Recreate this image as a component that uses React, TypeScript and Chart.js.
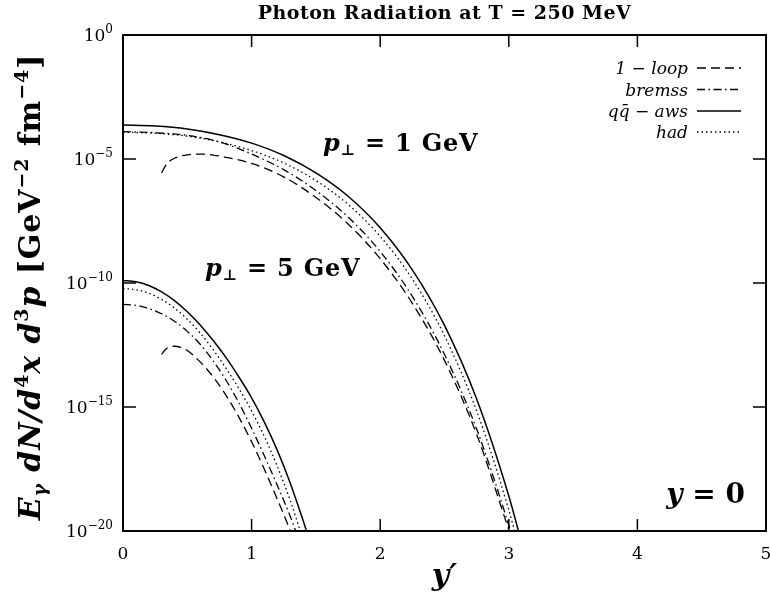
import React, { useEffect, useRef } from "react";
import { Chart, registerables } from "chart.js";

Chart.register(...registerables);

// Axis ticks
const xTicks = [0, 1, 2, 3, 4, 5];
const xTickLabels = ["0", "1", "2", "3", "4", "5"];
const yTicks = [1, 1e-5, 1e-10, 1e-15, 1e-20];
const yTickExponents = ["0", "−5", "−10", "−15", "−20"];

const seriesNames = ["1 − loop", "bremss", "qq̄ − aws", "had"];

// p⊥ = 1 GeV
const p1LoopX = [0.3, 0.33, 0.36, 0.4, 0.45, 0.5, 0.6, 0.7, 0.8, 1.0, 1.25, 1.5, 1.75, 2.0, 2.25, 2.5, 2.75, 3.0, 3.03];
const p1LoopY = [2.754e-6, 5.248e-6, 7.943e-6, 1.072e-5, 1.318e-5, 1.479e-5, 1.585e-5, 1.445e-5, 1.175e-5, 6.607e-6, 1.905e-6, 2.818e-7, 2.399e-8, 9.55e-10, 1.514e-11, 7.586e-14, 7.943e-17, 1.122e-20, 3.981e-21];

const p1BremX = [0, 0.25, 0.5, 0.75, 1.0, 1.25, 1.5, 1.75, 2.0, 2.25, 2.5, 2.75, 3.0, 3.03];
const p1BremY = [1.259e-4, 1.148e-4, 8.913e-5, 4.898e-5, 1.585e-5, 3.715e-6, 5.37e-7, 4.571e-8, 1.862e-9, 2.884e-11, 1.318e-13, 1.288e-16, 1.698e-20, 5.012e-21];

const p1AwsX = [0, 0.25, 0.5, 0.75, 1.0, 1.25, 1.5, 1.75, 2.0, 2.25, 2.5, 2.75, 3.0, 3.1];
const p1AwsY = [2.344e-4, 2.138e-4, 1.622e-4, 9.55e-5, 4.365e-5, 1.38e-5, 2.754e-6, 3.162e-7, 1.698e-8, 3.388e-10, 1.95e-12, 2.089e-15, 2.57e-19, 3.311e-21];

const p1HadX = [0, 0.25, 0.5, 0.75, 1.0, 1.25, 1.5, 1.75, 2.0, 2.25, 2.5, 2.75, 3.0, 3.06];
const p1HadY = [1.202e-4, 1.096e-4, 8.318e-5, 4.898e-5, 2.188e-5, 6.918e-6, 1.349e-6, 1.479e-7, 7.586e-9, 1.445e-10, 7.413e-13, 6.918e-16, 7.079e-20, 5.012e-21];

// p⊥ = 5 GeV
const p5LoopX = [0.3, 0.33, 0.36, 0.4, 0.45, 0.5, 0.6, 0.7, 0.8, 0.9, 1.0, 1.1, 1.2, 1.3, 1.33];
const p5LoopY = [1.318e-13, 2.089e-13, 2.63e-13, 2.818e-13, 2.512e-13, 1.905e-13, 6.607e-14, 1.66e-14, 3.02e-15, 3.981e-16, 3.981e-17, 3.02e-18, 1.905e-19, 1.047e-20, 3.981e-21];

const p5BremX = [0, 0.1, 0.2, 0.3, 0.4, 0.5, 0.6, 0.7, 0.8, 0.9, 1.0, 1.1, 1.2, 1.3, 1.36];
const p5BremY = [1.38e-11, 1.259e-11, 9.333e-12, 5.754e-12, 2.884e-12, 1.122e-12, 3.388e-13, 7.413e-14, 1.23e-14, 1.514e-15, 1.38e-16, 1.047e-17, 6.918e-19, 3.981e-20, 5.623e-21];

const p5AwsX = [0, 0.1, 0.2, 0.3, 0.4, 0.5, 0.6, 0.7, 0.8, 0.9, 1.0, 1.1, 1.2, 1.3, 1.4, 1.45];
const p5AwsY = [1.259e-10, 1.122e-10, 7.943e-11, 4.365e-11, 1.95e-11, 6.918e-12, 2.042e-12, 4.898e-13, 1.0e-13, 1.66e-14, 2.344e-15, 2.399e-16, 1.778e-17, 8.71e-19, 2.692e-20, 4.074e-21];

const p5HadX = [0, 0.1, 0.2, 0.3, 0.4, 0.5, 0.6, 0.7, 0.8, 0.9, 1.0, 1.1, 1.2, 1.3, 1.4];
const p5HadY = [6.026e-11, 5.37e-11, 3.89e-11, 2.188e-11, 9.772e-12, 3.467e-12, 9.55e-13, 2.089e-13, 3.715e-14, 5.623e-15, 6.918e-16, 6.31e-17, 3.981e-18, 1.738e-19, 4.467e-21];

const SERIF = '"DejaVu Serif", serif';

const STYLES = [
  { dash: [9, 5] },
  { dash: [8, 3.5, 1.5, 3.5] },
  { dash: [] as number[] },
  { dash: [1.5, 3] },
];

type Seg = { t: string; f: string; dy?: number };

function drawRich(
  ctx: CanvasRenderingContext2D,
  segs: Seg[],
  x: number,
  y: number,
  align: "left" | "center" | "right",
  spacing = 0
) {
  (ctx as any).letterSpacing = `${spacing}px`;
  let w = 0;
  for (const s of segs) {
    ctx.font = s.f;
    w += ctx.measureText(s.t).width;
  }
  let cx = align === "left" ? x : align === "center" ? x - w / 2 : x - w;
  ctx.textAlign = "left";
  ctx.textBaseline = "alphabetic";
  for (const s of segs) {
    ctx.font = s.f;
    ctx.fillText(s.t, cx, y + (s.dy || 0));
    cx += ctx.measureText(s.t).width;
  }
  (ctx as any).letterSpacing = "0px";
}

function pts(xs: number[], ys: number[]) {
  return xs.map((x, i) => ({ x, y: ys[i] }));
}

function ds(xs: number[], ys: number[], style: number) {
  return {
    data: pts(xs, ys),
    borderColor: "#000",
    borderWidth: style === 2 ? 1.5 : 1.3,
    borderDash: STYLES[style].dash,
    pointRadius: 0,
    fill: false,
    cubicInterpolationMode: "monotone" as const,
  };
}

const decor = {
  id: "decor",
  afterDatasetsDraw(chart: any) {
    const { ctx, chartArea: a, scales } = chart;
    const xs = scales.x;
    const ys = scales.y;
    ctx.save();
    ctx.fillStyle = "#000";
    ctx.strokeStyle = "#000";
    ctx.setLineDash([]);

    // frame
    ctx.lineWidth = 2;
    ctx.strokeRect(a.left, a.top, a.right - a.left, a.bottom - a.top);

    // inward ticks
    ctx.lineWidth = 1.5;
    ctx.beginPath();
    xTicks.forEach((t) => {
      const px = xs.getPixelForValue(t);
      ctx.moveTo(px, a.bottom);
      ctx.lineTo(px, a.bottom - 12);
      ctx.moveTo(px, a.top);
      ctx.lineTo(px, a.top + 12);
    });
    yTicks.forEach((t) => {
      const py = ys.getPixelForValue(t);
      ctx.moveTo(a.left, py);
      ctx.lineTo(a.left + 13, py);
      ctx.moveTo(a.right, py);
      ctx.lineTo(a.right - 13, py);
    });
    ctx.stroke();

    // x tick labels
    ctx.font = `17px ${SERIF}`;
    ctx.textAlign = "center";
    ctx.textBaseline = "alphabetic";
    xTicks.forEach((t, i) => {
      ctx.fillText(xTickLabels[i], xs.getPixelForValue(t), a.bottom + 28);
    });

    // y tick labels: 10 with superscript exponent
    yTicks.forEach((t, i) => {
      const py = ys.getPixelForValue(t);
      drawRich(
        ctx,
        [
          { t: "10", f: `17px ${SERIF}` },
          { t: yTickExponents[i], f: `12px ${SERIF}`, dy: -8 },
        ],
        a.left - 10,
        py + 6,
        "right"
      );
    });

    // title
    drawRich(
      ctx,
      [{ t: "Photon Radiation at T = 250 MeV", f: `bold 19px ${SERIF}` }],
      (a.left + a.right) / 2,
      19,
      "center",
      0.5
    );

    // x axis title
    drawRich(ctx, [{ t: "y′", f: `italic bold 30px ${SERIF}` }], (a.left + a.right) / 2, 585, "center");

    // y axis title
    ctx.save();
    ctx.translate(40, 287);
    ctx.rotate(-Math.PI / 2);
    const bi = `italic bold 30px ${SERIF}`;
    const b = `bold 30px ${SERIF}`;
    const sb = `bold 19px ${SERIF}`;
    const sbi = `italic bold 19px ${SERIF}`;
    drawRich(
      ctx,
      [
        { t: "E", f: bi },
        { t: "γ", f: sbi, dy: 6 },
        { t: " dN/d", f: bi },
        { t: "4", f: sb, dy: -12 },
        { t: "x d", f: bi },
        { t: "3", f: sb, dy: -12 },
        { t: "p ", f: bi },
        { t: "[GeV", f: b },
        { t: "−2", f: sb, dy: -12 },
        { t: " fm", f: b },
        { t: "−4", f: sb, dy: -12 },
        { t: "]", f: b },
      ],
      0,
      0,
      "center",
      0.9
    );
    ctx.restore();

    // curve annotations
    const annBI = `italic bold 24px ${SERIF}`;
    const annB = `bold 24px ${SERIF}`;
    const annS = `bold 15px ${SERIF}`;
    drawRich(
      ctx,
      [
        { t: "p", f: annBI },
        { t: "⊥", f: annS, dy: 4 },
        { t: " = 1 GeV", f: annB },
      ],
      323,
      151,
      "left",
      0.8
    );
    drawRich(
      ctx,
      [
        { t: "p", f: annBI },
        { t: "⊥", f: annS, dy: 4 },
        { t: " = 5 GeV", f: annB },
      ],
      205,
      276,
      "left",
      0.8
    );
    drawRich(
      ctx,
      [
        { t: "y", f: `italic bold 28px ${SERIF}` },
        { t: " = 0", f: `bold 28px ${SERIF}` },
      ],
      745,
      503,
      "right"
    );

    // legend
    const legY = [68, 89.5, 111, 132];
    ctx.font = `italic 17px ${SERIF}`;
    ctx.textAlign = "right";
    seriesNames.forEach((name, i) => {
      ctx.fillText(name, 688, legY[i] + 6);
      ctx.beginPath();
      ctx.setLineDash(STYLES[i].dash);
      ctx.lineWidth = i === 2 ? 1.5 : 1.3;
      ctx.moveTo(697, legY[i]);
      ctx.lineTo(741, legY[i]);
      ctx.stroke();
    });
    ctx.restore();
  },
};

export default function App() {
  const ref = useRef<HTMLCanvasElement | null>(null);

  useEffect(() => {
    if (!ref.current) return;
    const chart = new Chart(ref.current, {
      type: "line",
      data: {
        datasets: [
          ds(p1LoopX, p1LoopY, 0),
          ds(p1BremX, p1BremY, 1),
          ds(p1AwsX, p1AwsY, 2),
          ds(p1HadX, p1HadY, 3),
          ds(p5LoopX, p5LoopY, 0),
          ds(p5BremX, p5BremY, 1),
          ds(p5AwsX, p5AwsY, 2),
          ds(p5HadX, p5HadY, 3),
        ],
      },
      options: {
        responsive: false,
        animation: false,
        devicePixelRatio: 1,
        layout: { padding: { left: 123, right: 4, top: 35, bottom: 66 } },
        scales: {
          x: { type: "linear", min: 0, max: 5, display: false },
          y: { type: "logarithmic", min: 1e-20, max: 1, display: false },
        },
        plugins: {
          legend: { display: false },
          tooltip: { enabled: false },
          title: { display: false },
        },
        events: [],
      },
      plugins: [decor],
    });
    return () => chart.destroy();
  }, []);

  return (
    <div style={{ position: "fixed", left: 0, top: 0, width: 770, height: 597, background: "#fff" }}>
      <canvas ref={ref} width={770} height={597} />
    </div>
  );
}
